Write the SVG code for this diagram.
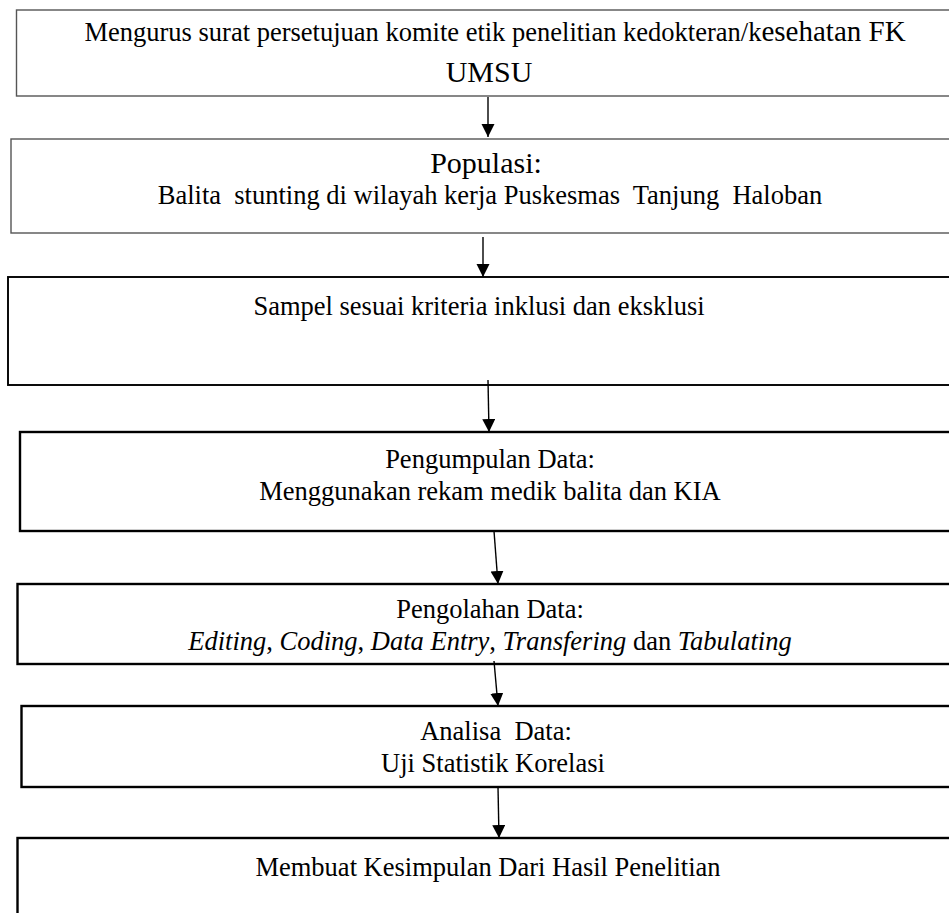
<svg xmlns="http://www.w3.org/2000/svg" width="949" height="913" viewBox="0 0 949 913">
<style>
.bg{fill:#ffffff}
.box{fill:#ffffff}
.gray{stroke:#555555;stroke-width:1.4}
.blk{stroke:#000000;stroke-width:2.4}
.blk1{stroke:#000000;stroke-width:1.9}
text{font-family:"Liberation Serif","Times New Roman",serif;font-size:26.5px;fill:#000000;text-anchor:middle}
.big{font-size:30px}
.it{font-style:italic}
.con line{stroke:#000000;stroke-width:1.4}
</style>
<defs>
<marker id="ah" markerUnits="userSpaceOnUse" markerWidth="14" markerHeight="14" refX="13" refY="6.5" orient="auto">
<path d="M0,0 L13,6.5 L0,13 z" fill="#000000"/>
</marker>
</defs>
<rect class="bg" x="0" y="0" width="949" height="913"/>
<g id="node1">
<rect class="box gray" x="16.5" y="10" width="950" height="86"/>
<text x="495" y="41">Mengurus surat persetujuan komite etik penelitian kedokteran/k<tspan style="font-size:29px">esehatan FK</tspan></text>
<text class="big" x="489" y="82">UMSU</text>
</g>
<g id="node2">
<rect class="box gray" x="11" y="139" width="950" height="94"/>
<text class="big" x="486" y="172.5">Populasi:</text>
<text x="490" y="203.5" xml:space="preserve">Balita  stunting di wilayah kerja Puskesmas  Tanjung  Haloban</text>
</g>
<g id="node3">
<rect class="box blk1" x="8" y="277" width="950" height="108"/>
<text x="479" y="315">Sampel sesuai kriteria inklusi dan eksklusi</text>
</g>
<g id="node4">
<rect class="box blk" x="20" y="432" width="950" height="99"/>
<text x="490" y="468">Pengumpulan Data:</text>
<text x="490" y="500">Menggunakan rekam medik balita dan KIA</text>
</g>
<g id="node5">
<rect class="box blk" x="17.5" y="584" width="950" height="80"/>
<text x="490" y="618">Pengolahan Data:</text>
<text x="490" y="650"><tspan class="it">Editing</tspan>, <tspan class="it">Coding</tspan>, <tspan class="it">Data Entry</tspan>, <tspan class="it">Transfering</tspan> dan <tspan class="it">Tabulating</tspan></text>
</g>
<g id="node6">
<rect class="box blk" x="21.5" y="706" width="950" height="81"/>
<text x="496" y="740" xml:space="preserve">Analisa  Data:</text>
<text x="493" y="772">Uji Statistik Korelasi</text>
</g>
<g id="node7">
<rect class="box blk" x="17.5" y="838" width="950" height="100"/>
<text x="488" y="876">Membuat Kesimpulan Dari Hasil Penelitian</text>
</g>
<g id="connectors" class="con">
<line x1="488" y1="97" x2="488" y2="137" marker-end="url(#ah)"/>
<line x1="483" y1="237" x2="483" y2="277" marker-end="url(#ah)"/>
<line x1="488" y1="380" x2="489" y2="432" marker-end="url(#ah)"/>
<line x1="494" y1="531" x2="498" y2="584" marker-end="url(#ah)"/>
<line x1="494" y1="661" x2="498" y2="706" marker-end="url(#ah)"/>
<line x1="498" y1="787" x2="499" y2="838" marker-end="url(#ah)"/>
</g>
</svg>
